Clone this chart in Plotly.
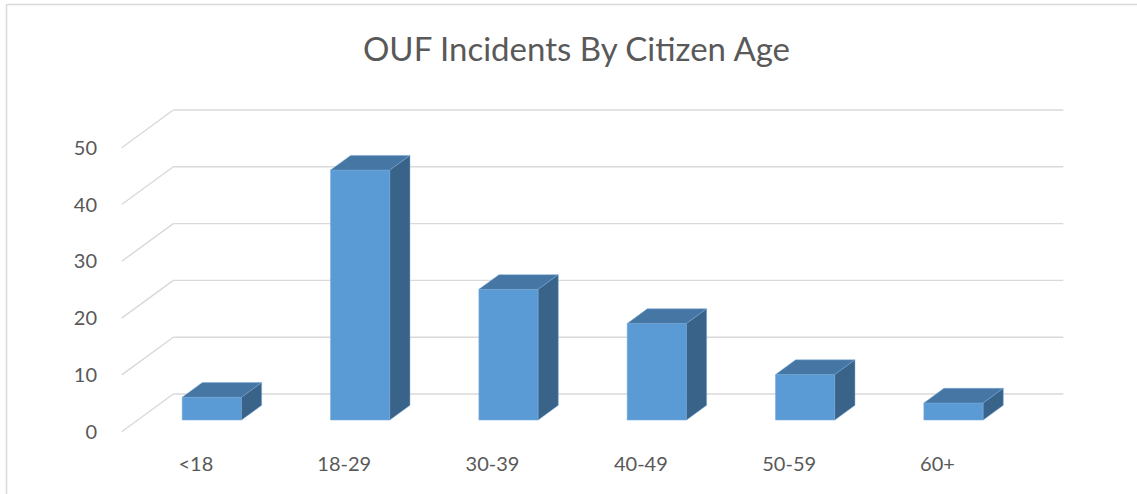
import plotly.graph_objects as go

# ---- data ----
categories = ["<18", "18-29", "30-39", "40-49", "50-59", "60+"]
incidents = [4, 44, 23, 17, 8, 3]
y_ticks = [0, 10, 20, 30, 40, 50]
title_text = "OUF Incidents By Citizen Age"

# ---- styling / geometry ----
W, H = 1137, 494
PXX = 148.33      # px per category unit (front plane)
PXY = 5.68        # px per value unit
X0PX = 121.7      # px of x=-0.5 (front-left floor corner)
Y0PX = 431.7      # px of y=0 on the front plane
DXF = 51.6 / PXX  # full depth shift in x units
DYF = 37.7 / PXY  # full depth shift in y units
F0, F1 = 0.31, 0.70  # bar depth fractions (front / back)
BW = 0.40            # bar width in category units

ML, MR, MT, MB = 107, 66, 97, 57
x_lo = -0.5 + (ML - X0PX) / PXX
x_hi = -0.5 + (W - MR - X0PX) / PXX
y_lo = (Y0PX - (H - MB)) / PXY
y_hi = (Y0PX - MT) / PXY

FRONT = "#5B9BD5"
TOP = "#4677A4"
SIDE = "#3A6389"
EDGE = "rgba(120,170,220,0.9)"
GRID = "#D9D9D9"
TXT = "#595959"
FONT = "Lato"

fig = go.Figure()

# gridlines (diagonal on left side wall + horizontal on back wall)
shapes = []
n = len(categories)
for v in y_ticks:
    shapes.append(dict(type="line", xref="x", yref="y", layer="below",
                       x0=-0.5, y0=v, x1=-0.5 + DXF, y1=v + DYF,
                       line=dict(color=GRID, width=1.4)))
    shapes.append(dict(type="line", xref="x", yref="y", layer="below",
                       x0=-0.5 + DXF, y0=v + DYF, x1=n - 0.5 + DXF, y1=v + DYF,
                       line=dict(color=GRID, width=1.4)))

# chart border (top and left edges)
def px2paper_x(px):
    return (px - ML) / (W - ML - MR)

def px2paper_y(py):
    return ((H - MB) - py) / (H - MT - MB)

shapes.append(dict(type="line", xref="paper", yref="paper", layer="above",
                   x0=px2paper_x(6.5), y0=px2paper_y(4.5), x1=px2paper_x(W + 2), y1=px2paper_y(4.5),
                   line=dict(color=GRID, width=1.5)))
shapes.append(dict(type="line", xref="paper", yref="paper", layer="above",
                   x0=px2paper_x(6.5), y0=px2paper_y(4.5), x1=px2paper_x(6.5), y1=px2paper_y(H + 2),
                   line=dict(color=GRID, width=1.5)))

# front faces of bars
xs = list(range(n))
base = F0 * DYF
fig.add_trace(go.Bar(
    x=[i + F0 * DXF for i in xs], y=incidents, base=base, width=BW,
    marker=dict(color=FRONT, line=dict(color=EDGE, width=0.6)),
    hoverinfo="skip", showlegend=False,
))

dX = (F1 - F0) * DXF
dY = (F1 - F0) * DYF
for i, v in zip(xs, incidents):
    cx = i + F0 * DXF
    L, R = cx - BW / 2, cx + BW / 2
    top = base + v
    # top face
    fig.add_trace(go.Scatter(
        x=[L, R, R + dX, L + dX, L], y=[top, top, top + dY, top + dY, top],
        mode="lines", fill="toself", fillcolor=TOP,
        line=dict(color=EDGE, width=0.5), hoverinfo="skip", showlegend=False))
    # side face
    fig.add_trace(go.Scatter(
        x=[R, R + dX, R + dX, R, R], y=[base, base + dY, top + dY, top, base],
        mode="lines", fill="toself", fillcolor=SIDE,
        line=dict(color=EDGE, width=0.5), hoverinfo="skip", showlegend=False))

fig.update_layout(
    width=W, height=H, autosize=False,
    margin=dict(l=ML, r=MR, t=MT, b=MB, pad=0),
    paper_bgcolor="white", plot_bgcolor="white",
    shapes=shapes,
    showlegend=False,
    font=dict(family=FONT, color=TXT),
    title=dict(text=title_text, x=576.5 / W, xanchor="center",
               y=1 - 49 / H, yanchor="middle", yref="container",
               font=dict(family=FONT, size=33, color=TXT)),
    xaxis=dict(range=[x_lo, x_hi], tickvals=xs, ticktext=categories,
               showgrid=False, zeroline=False, showline=False,
               ticks="outside", ticklen=9, tickcolor="rgba(0,0,0,0)",
               tickfont=dict(family=FONT, size=20, color=TXT), fixedrange=True),
    yaxis=dict(range=[y_lo, y_hi], tickvals=y_ticks,
               showgrid=False, zeroline=False, showline=False,
               ticks="outside", ticklen=5, tickcolor="rgba(0,0,0,0)",
               tickfont=dict(family=FONT, size=20, color=TXT), fixedrange=True),
)

fig.write_html("out.html", config={"displayModeBar": False},
               post_script="document.body.style.margin='0';document.body.style.overflow='hidden';")
